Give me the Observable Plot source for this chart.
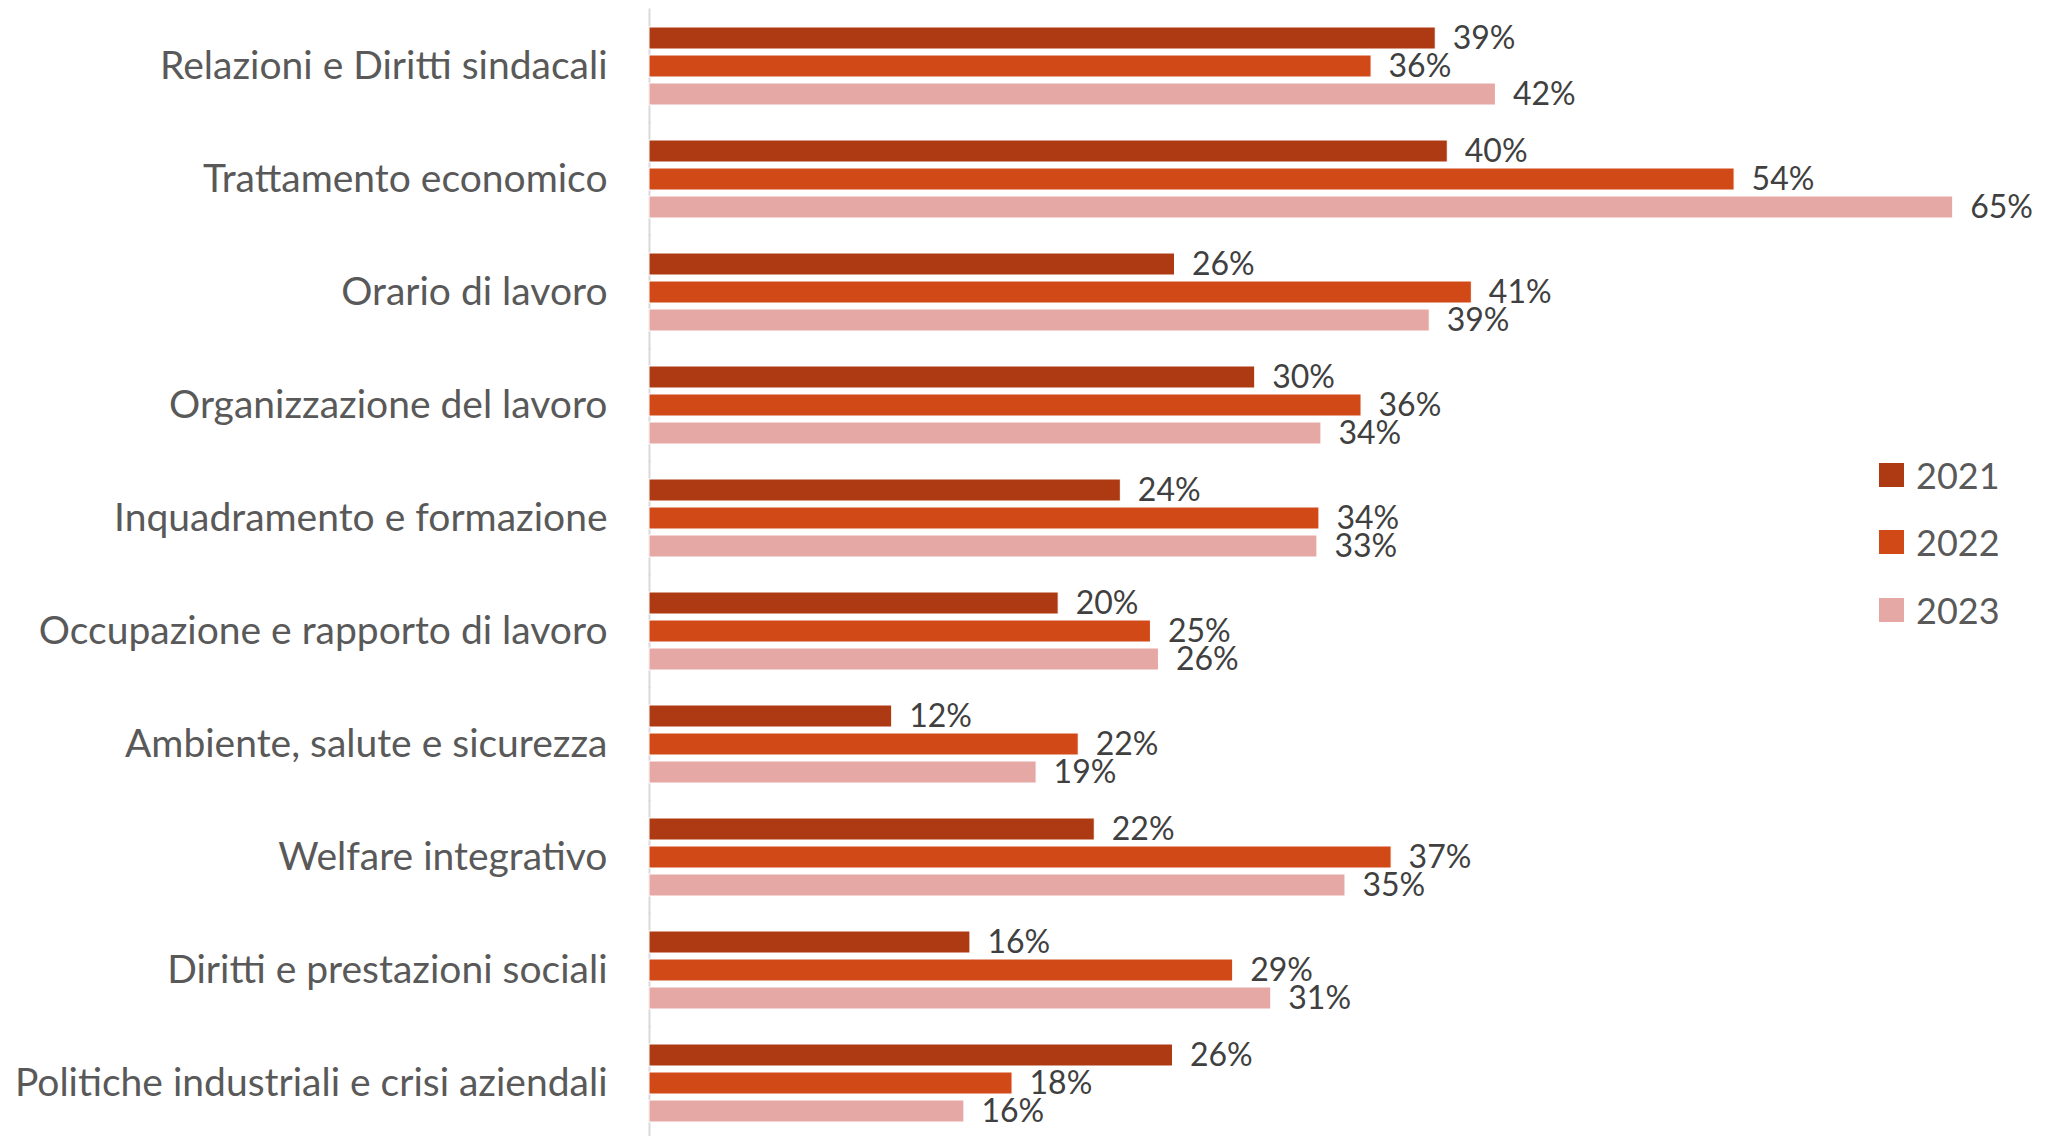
<!DOCTYPE html>
<html><head><meta charset="utf-8">
<script src="https://cdn.jsdelivr.net/npm/d3@7"></script>
<script src="https://cdn.jsdelivr.net/npm/@observablehq/plot@0.6"></script>
<style>
html,body{margin:0;padding:0;background:#fff;}
#wrap{position:relative;width:2057px;height:1136px;}
#legend{position:absolute;left:1879px;top:441px;font-family:Lato,sans-serif;font-size:36px;color:#595959;}
.item{display:flex;align-items:center;height:67.5px;}
.sw{width:25px;height:24px;margin-right:12px;}
</style></head><body><div id="wrap"></div>
<script>
const categories = [
  "Relazioni e Diritti sindacali",
  "Trattamento economico",
  "Orario di lavoro",
  "Organizzazione del lavoro",
  "Inquadramento e formazione",
  "Occupazione e rapporto di lavoro",
  "Ambiente, salute e sicurezza",
  "Welfare integrativo",
  "Diritti e prestazioni sociali",
  "Politiche industriali e crisi aziendali"
];
const years = ["2021", "2022", "2023"];
// bar lengths
const v2021 = [39.2, 39.8, 26.2, 30.2, 23.5, 20.4, 12.1, 22.2, 16.0, 26.1];
const v2022 = [36.0, 54.1, 41.0, 35.5, 33.4, 25.0, 21.4, 37.0, 29.1, 18.1];
const v2023 = [42.2, 65.0, 38.9, 33.5, 33.3, 25.4, 19.3, 34.7, 31.0, 15.7];
// data labels as printed
const l2021 = ["39%", "40%", "26%", "30%", "24%", "20%", "12%", "22%", "16%", "26%"];
const l2022 = ["36%", "54%", "41%", "36%", "34%", "25%", "22%", "37%", "29%", "18%"];
const l2023 = ["42%", "65%", "39%", "34%", "33%", "26%", "19%", "35%", "31%", "16%"];
const colors = ["#AE3A13", "#D24918", "#E6A8A4"];

const series = [v2021, v2022, v2023];
const labels = [l2021, l2022, l2023];
const data = [];
categories.forEach((c, i) => years.forEach((y, j) =>
  data.push({category: c, year: y, value: series[j][i], label: labels[j][i]})));

const chart = Plot.plot({
  width: 2057, height: 1136,
  marginLeft: 649, marginRight: 4, marginTop: 22, marginBottom: 10,
  style: {fontFamily: "Lato, sans-serif", fontSize: "39px", color: "#595959", background: "#fff"},
  x: {domain: [0, 70], axis: null},
  y: {domain: years, paddingInner: 0.2, paddingOuter: 0, axis: null},
  fy: {domain: categories, paddingInner: 0.295, paddingOuter: 0, label: null, axis: "left", tickSize: 0, tickPadding: 42},
  color: {domain: years, range: colors},
  marks: [
    Plot.ruleX([0], {stroke: "#d9d9d9", strokeWidth: 2, insetTop: -17.5, insetBottom: -17.5}),
    Plot.barX(data, {fy: "category", y: "year", x: "value", fill: "year", stroke: "white", strokeWidth: 1}),
    Plot.text(data, {fy: "category", y: "year", x: "value", text: "label", textAnchor: "start", dx: 17, fill: "#404040", fontSize: 32})
  ]
});
const wrap = document.getElementById("wrap");
wrap.appendChild(chart);

const legend = document.createElement("div");
legend.id = "legend";
years.forEach((y, j) => {
  const it = document.createElement("div");
  it.className = "item";
  const sw = document.createElement("div");
  sw.className = "sw";
  sw.style.background = colors[j];
  const t = document.createElement("span");
  t.textContent = y;
  it.appendChild(sw); it.appendChild(t);
  legend.appendChild(it);
});
wrap.appendChild(legend);
</script></body></html>
